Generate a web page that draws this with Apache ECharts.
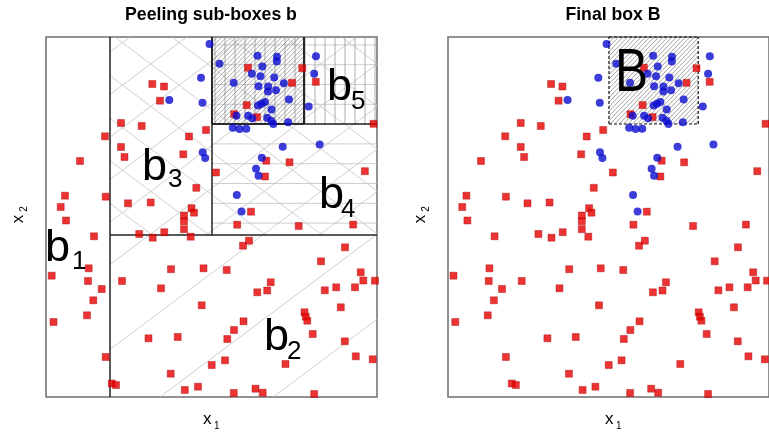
<!DOCTYPE html>
<html><head><meta charset="utf-8">
<script src="https://cdn.jsdelivr.net/npm/echarts@6/dist/echarts.min.js"></script>
<style>html,body{margin:0;padding:0;background:#fff}#c{width:769px;height:435px}</style>
</head><body><div id="c"></div>
<script>
// ---- data (x1, x2 in plot units) ----
const redX = [34,59,19,59.7,14.7,20,48,5.7,42.7,42,55.7,47.3,41,7.5,59.7,23.5,
  106.3,118,114,75,95.7,143,160,75,78.5,137.3,150.3,82,104.7,145.5,148,138,138,138,93.2,118.3,106.7,144.7,
  202,256.3,246,269.8,200.7,188.2,211,327.5,220.3,243.5,170,318.9,219,205,191.2,252.7,307.2,
  203,197,299,275,157.5,180.7,314.7,317.3,329,224.7,221.2,211.3,278.8,290.2,309,155.7,294.8,258.5,259.7,261.3,
  197.5,188,181.3,266.7,298.8,309.8,326.7,179,165.7,239.5,152,187.8,209.5,216.7,268.2,76,125,115,102.5,131.7,124.7,65.8,70,138.8];
const redY = [236,260.7,201.3,200.3,190,176.5,160.7,121.3,128.7,116,108,96.7,81.7,75,40,-1,
  313,310.5,296.3,274,271,260.5,267,250,240,242.7,209.2,193.7,194.5,188.8,184.3,181.5,175.7,167.8,163,164.8,159.3,160.3,
  329.3,328.8,314.2,315.2,291.9,282.8,279.9,273.2,236.3,234.7,224.5,225.8,220.5,185.3,172.3,171,172.4,
  156.3,151.3,149.7,135.7,128.7,127,124.7,116.5,116.3,114.7,106.5,104.7,106.7,109.7,109.7,91.7,89.7,84.7,80.3,76.3,
  75.7,67,58,63,55.7,40.7,37.7,36.7,32,33,10.3,4,8.3,4.3,3,116,127.8,108.7,58.7,60,23.3,13.5,12,7];
const blueX = [163.5,155,123.3,156.5,156.7,159.2,211.5,231,230.8,173.5,216.3,205.8,214.5,228.2,187.7,237.8,212.5,222.2,222,230,
  243,219,215.5,212,225.5,190.5,202.2,206.3,221.2,225.3,227.3,242.2,186.8,193.5,200.3,270,268.2,262.7,236.7,273.7,215.8,210,212.5,190.8,195.5];
const blueY = [353,319.3,297,294.3,244.8,239,341.3,340.2,335.5,333.3,330.5,323.3,320.8,319.5,314.2,313.8,310.8,310.5,305.5,306.8,
  297.5,295,293.2,291.4,287.5,281.2,281.3,278.8,279.3,276.3,273,274.8,269.2,268,268.2,340.7,323.2,290.5,250.3,252.5,239.3,228.3,221.3,202,185.5];
// peeled boxes: b1..b5 and final box B
const boxNames = ['b1','b2','b3','b4','b5','B'];
const boxX0 = [0,64,64,166,258,166];
const boxX1 = [64,331,166,331,331,258];
const boxY0 = [0,0,162,162,273,273];
const boxY1 = [360,162,360,273,360,360];
const xMin = 0, xMax = 331, yMin = 0, yMax = 360;

// ---- geometry helpers ----
function rectOf(names){
  const idx = names.map(n=>boxNames.indexOf(n));
  return [Math.min(...idx.map(i=>boxX0[i])),Math.max(...idx.map(i=>boxX1[i])),
          Math.min(...idx.map(i=>boxY0[i])),Math.max(...idx.map(i=>boxY1[i]))];
}
function clipLine(m,b,r){
  if (m===0){ if(b<r[2]||b>r[3]) return null; return [r[0],b,r[1],b]; }
  const xl=(r[2]-b)/m, xh=(r[3]-b)/m;
  const lo=Math.max(r[0],Math.min(xl,xh)), hi=Math.min(r[1],Math.max(xl,xh));
  if (hi-lo<0.5) return null;
  return [lo,m*lo+b,hi,m*hi+b];
}
function family(m,b0,step,r){
  const out=[];
  for(let k=-60;k<=60;k++){ const s=clipLine(m,b0+k*step,r); if(s) out.push(s); }
  return out;
}
function verticals(x0,step,r){
  const out=[];
  for(let k=-60;k<=60;k++){ const x=x0+k*step; if(x>r[0]+0.5&&x<r[1]-0.5) out.push([x,r[2],x,r[3]]); }
  return out;
}
const rB2 = rectOf(['b2']);
const rX = rectOf(['b3','b4','b5','B']);
const rH = rectOf(['b4','b5','B']);
const rV = rectOf(['b5','B']);
const rFin = rectOf(['B']);

const leftLayers = [
  {lines: family(0.75,84.5,85,rB2), color:'#c4c4c4', width:0.8},
  {lines: family(0.75,84.5,42.5,rX).concat(family(-0.75,411.7,42.5,rX)), color:'#c4c4c4', width:0.8},
  {lines: family(0,352.1,19.8,rH), color:'#c0c0c0', width:0.8},
  {lines: verticals(169,10,rV), color:'#9a9a9a', width:0.8},
  {lines: family(1,0,4.6,rFin), color:'#8a8a8a', width:0.7}
];
// interior edges of peeled boxes
function boxEdges(i){
  const e=[];
  const x0=boxX0[i],x1=boxX1[i],y0=boxY0[i],y1=boxY1[i];
  if(x0>xMin) e.push([x0,y0,x0,y1]);
  if(x1<xMax) e.push([x1,y0,x1,y1]);
  if(y0>yMin) e.push([x0,y0,x1,y0]);
  if(y1<yMax) e.push([x0,y1,x1,y1]);
  return e;
}
let edgeLines=[];
for(let i=0;i<5;i++) edgeLines=edgeLines.concat(boxEdges(i));
leftLayers.push({lines: edgeLines, color:'#222', width:1});
leftLayers.push({lines: boxEdges(5), color:'#111', width:1.6});

const fi = boxNames.indexOf('B');
const rightLayers = [
  {lines: family(1,0,4.6,rFin), color:'#7a7a7a', width:0.7},
  {lines: [[boxX0[fi],boxY0[fi],boxX0[fi],boxY1[fi]],[boxX1[fi],boxY0[fi],boxX1[fi],boxY1[fi]],
           [boxX0[fi],boxY0[fi],boxX1[fi],boxY0[fi]],[boxX0[fi],boxY1[fi],boxX1[fi],boxY1[fi]]],
   color:'#111', width:1.2, dash:[3,2]}
];

function makeRender(layers){
  return function(params, api){
    const children=[];
    layers.forEach(L=>{
      L.lines.forEach(s=>{
        const p1=api.coord([s[0],s[1]]), p2=api.coord([s[2],s[3]]);
        children.push({type:'line',silent:true,shape:{x1:p1[0],y1:p1[1],x2:p2[0],y2:p2[1]},
          style:{stroke:L.color,lineWidth:L.width,lineDash:L.dash||null}});
      });
    });
    return {type:'group',children};
  };
}

const red = redX.map((x,i)=>[x,redY[i]]);
const blue = blueX.map((x,i)=>[x,blueY[i]]);

const axisCommon = {show:true, axisLine:{show:false}, axisTick:{show:false}, axisLabel:{show:false}, splitLine:{show:false}};
const grids = [
  {left:46, top:37, width:331, height:360, show:true, borderColor:'#6e6e6e', borderWidth:1.5, backgroundColor:'#fff'},
  {left:448, top:37, width:331, height:360, show:true, borderColor:'#6e6e6e', borderWidth:1.5, backgroundColor:'#fff'}
];
const redStyle = {color:'#e60000', borderColor:'#b00000', borderWidth:0.5};
const blueStyle = {color:'#0b0bd0'};

const FONT = '"Liberation Sans", Arial, Helvetica, sans-serif';
function txt(t,x,y,size,opt){
  opt=opt||{};
  return {type:'text', x:x, y:y, rotation:opt.rot||0, scaleX:opt.sx||1, silent:true, z:100,
    style:{text:t, fill:'#000', font:(opt.bold?'bold ':'')+size+'px '+FONT,
      align:opt.align||'left', verticalAlign:'middle'}};
}
const graphics = [
  txt('Peeling sub-boxes b',211,15,19,{bold:true,align:'center',sx:0.93}),
  txt('Final box B',613,15,19,{bold:true,align:'center',sx:0.93}),
  txt('x',203,419,17), txt('1',214,426,10),
  txt('x',605,419,17), txt('1',616,426,10),
  txt('x',18,219,17,{rot:Math.PI/2,align:'center'}), txt('2',24,209,10,{rot:Math.PI/2,align:'center'}),
  txt('x',420,219,17,{rot:Math.PI/2,align:'center'}), txt('2',426,209,10,{rot:Math.PI/2,align:'center'}),
  txt('b',45,249,45), txt('1',72,262,26),
  txt('b',142,168,45), txt('3',168,180,26),
  txt('b',327,88,45), txt('5',351,102,26),
  txt('b',319,196,45), txt('4',341,210,26),
  txt('b',264,338,45), txt('2',287,352,26),
  txt('B',615,74,62,{sx:0.8})
];

const chart = echarts.init(document.getElementById('c'), null, {renderer:'canvas'});
chart.setOption({
  animation:false,
  backgroundColor:'#fff',
  grid: grids,
  xAxis: [Object.assign({type:'value',gridIndex:0,min:xMin,max:xMax},axisCommon),
          Object.assign({type:'value',gridIndex:1,min:xMin,max:xMax},axisCommon)],
  yAxis: [Object.assign({type:'value',gridIndex:0,min:yMin,max:yMax},axisCommon),
          Object.assign({type:'value',gridIndex:1,min:yMin,max:yMax},axisCommon)],
  series: [
    {type:'custom', xAxisIndex:0, yAxisIndex:0, data:[[0,0]], renderItem:makeRender(leftLayers), silent:true, z:1, clip:false},
    {type:'custom', xAxisIndex:1, yAxisIndex:1, data:[[0,0]], renderItem:makeRender(rightLayers), silent:true, z:1, clip:false},
    {type:'scatter', xAxisIndex:0, yAxisIndex:0, data:red, symbol:'rect', symbolSize:7, itemStyle:redStyle, z:3},
    {type:'scatter', xAxisIndex:0, yAxisIndex:0, data:blue, symbol:'circle', symbolSize:8, itemStyle:blueStyle, z:4},
    {type:'scatter', xAxisIndex:1, yAxisIndex:1, data:red, symbol:'rect', symbolSize:7, itemStyle:redStyle, z:3},
    {type:'scatter', xAxisIndex:1, yAxisIndex:1, data:blue, symbol:'circle', symbolSize:8, itemStyle:blueStyle, z:4}
  ],
  graphic: graphics
});
</script>
</body></html>
